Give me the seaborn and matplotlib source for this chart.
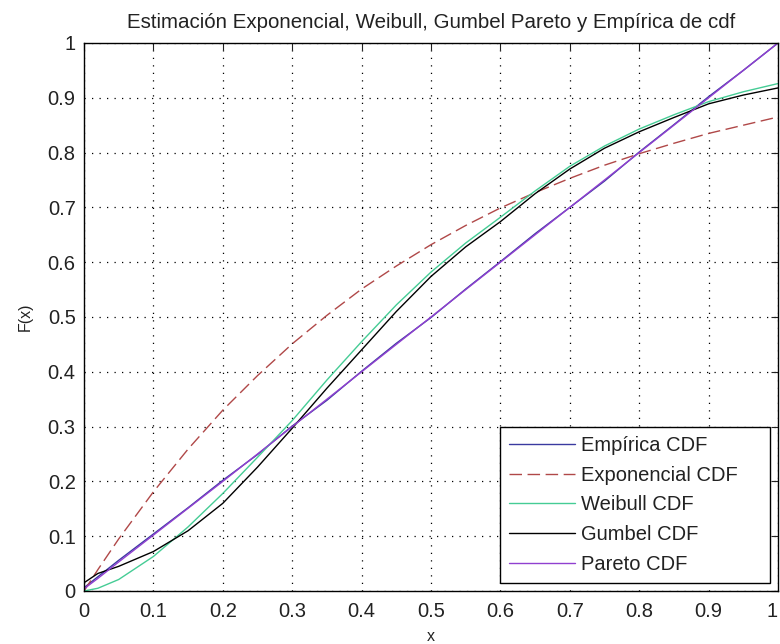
import matplotlib
matplotlib.use("Agg")
import matplotlib.pyplot as plt
import seaborn as sns
import pandas as pd

# ---- data ----
x_vals = [0.00, 0.02, 0.05, 0.10, 0.15, 0.20, 0.25, 0.30, 0.35, 0.40, 0.45,
          0.50, 0.55, 0.60, 0.65, 0.70, 0.75, 0.80, 0.85, 0.90, 0.95, 1.00]
empirica = [0.006, 0.026, 0.056, 0.104, 0.152, 0.202, 0.249, 0.301, 0.348, 0.401, 0.452,
            0.499, 0.551, 0.601, 0.652, 0.700, 0.748, 0.801, 0.851, 0.902, 0.950, 1.000]
exponencial = [0.000, 0.039, 0.095, 0.181, 0.259, 0.330, 0.393, 0.451, 0.503, 0.551, 0.593,
               0.632, 0.667, 0.699, 0.727, 0.753, 0.777, 0.798, 0.817, 0.835, 0.850, 0.865]
weibull = [0.000, 0.005, 0.021, 0.063, 0.117, 0.178, 0.244, 0.311, 0.385, 0.455, 0.522,
           0.582, 0.635, 0.682, 0.730, 0.775, 0.812, 0.843, 0.869, 0.893, 0.911, 0.926]
gumbel = [0.015, 0.032, 0.045, 0.072, 0.110, 0.160, 0.226, 0.297, 0.370, 0.440, 0.510,
          0.574, 0.628, 0.674, 0.725, 0.770, 0.808, 0.838, 0.864, 0.889, 0.905, 0.918]
pareto = [0.004, 0.023, 0.053, 0.102, 0.151, 0.200, 0.250, 0.300, 0.350, 0.400, 0.450,
          0.500, 0.550, 0.600, 0.650, 0.700, 0.750, 0.800, 0.850, 0.900, 0.950, 1.000]

tick_vals = [0, 0.1, 0.2, 0.3, 0.4, 0.5, 0.6, 0.7, 0.8, 0.9, 1]
tick_labels = ["0", "0.1", "0.2", "0.3", "0.4", "0.5", "0.6", "0.7", "0.8", "0.9", "1"]

title = "Estimación Exponencial, Weibull, Gumbel Pareto y Empírica de cdf"
series = [
    ("Empírica CDF", empirica, "#3a3aa0", "-"),
    ("Exponencial CDF", exponencial, "#b04848", (0, (9, 4))),
    ("Weibull CDF", weibull, "#45cc95", "-"),
    ("Gumbel CDF", gumbel, "#000000", "-"),
    ("Pareto CDF", pareto, "#9040d0", "-"),
]

sns.set_style("white")
plt.rcParams['font.family'] = ['Liberation Sans', 'DejaVu Sans']

fig = plt.figure(figsize=(7.8, 6.44), dpi=100)
ax = fig.add_axes([84 / 780, 1 - 591 / 644, 694 / 780, 548 / 644])

for name, vals, col, ls in series:
    df = pd.DataFrame({"x": x_vals, "F": vals})
    sns.lineplot(data=df, x="x", y="F", ax=ax, color=col, linestyle=ls,
                 linewidth=1.0, label=name, sort=False)

ax.set_xlim(0, 1)
ax.set_ylim(0, 1)
ax.set_xticks(tick_vals)
ax.set_xticklabels(tick_labels)
ax.set_yticks(tick_vals)
ax.set_yticklabels(tick_labels)
ax.tick_params(direction="in", top=True, right=True, length=5, width=0.8,
               labelsize=14.5, colors="#222222")
ax.tick_params(axis="x", pad=8)
ax.tick_params(axis="y", pad=6)
ax.get_xticklabels()[-1].set_horizontalalignment("right")
for sp in ax.spines.values():
    sp.set_color("black")
    sp.set_linewidth(1.0)
    sp.set_visible(True)
ax.grid(True, color="black", linestyle=(0, (1, 5)), linewidth=0.9)

ax.set_xlabel("x", fontsize=11.5, color="#222222")
ax.set_ylabel("F(x)", fontsize=11.5, color="#222222")
ax.xaxis.set_label_coords(0.5, -0.07)
ax.yaxis.set_label_coords(-0.074, 0.5)
ax.set_title(title, fontsize=14.8, pad=11, color="#222222")

leg = ax.legend(loc="lower left", bbox_to_anchor=(0.599, 0.015, 0.389, 0.287),
                mode="expand", borderaxespad=0,
                fontsize=14.5, frameon=True, fancybox=False, handlelength=3.3,
                handletextpad=0.3, labelspacing=0.53, borderpad=0.45)
leg.get_frame().set_edgecolor("black")
leg.get_frame().set_linewidth(1.0)
leg.get_frame().set_facecolor("white")
leg.get_frame().set_alpha(1)
for t in leg.get_texts():
    t.set_color("#222222")

fig.savefig("out.png", dpi=100)
